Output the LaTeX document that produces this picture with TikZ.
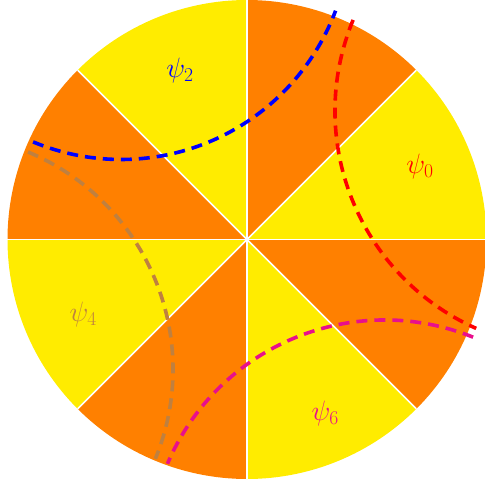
\RequirePackage{fix-cm}
\documentclass[tikz,border=0pt]{standalone}
\definecolor{yel}{RGB}{255,236,0}
\definecolor{org}{RGB}{255,128,0}
\definecolor{mag}{RGB}{232,16,140}
\definecolor{brn}{RGB}{191,128,64}
\begin{document}
\begin{tikzpicture}[x=1pt,y=1pt,
  sep/.style={draw=white, line width=1.6pt},
  geo/.style={draw=#1, line width=3.6pt, dash pattern=on 11pt off 7pt},
  lab/.style={text=#1, font=\fontsize{28}{30}\selectfont, inner sep=0pt}]
\useasboundingbox (-247,-245.5) rectangle (238,239.5);
\def\R{239.5}
\coordinate (O) at (0,0);
\foreach \a/\c in {0/yel,45/org,90/yel,135/org,180/yel,225/org,270/yel,315/org}
  \fill[\c] (O) -- (\a:\R) arc[start angle=\a, end angle=\a+45, radius=\R] -- cycle;
\foreach \a in {0,45,...,315} \draw[sep] (O) -- (\a:\R);
% arc centres
\coordinate (cr) at (326,128.5);
\coordinate (cb) at (-125.9,309);
\coordinate (cw) at (-309.5,-129.9);
\coordinate (cm) at (137.7,-316.5);
\draw[geo=red] (cr) ++(157.5:238) arc[start angle=157.5, end angle=246, radius=238];
\draw[geo=blue] (cb) ++(247.4:229) arc[start angle=247.4, end angle=339.5, radius=229];
\draw[geo=brn] (cw) ++(67.4:235.5) arc[start angle=67.4, end angle=-22.3, radius=235.5];
\draw[geo=mag] (cm) ++(68:236) arc[start angle=68, end angle=157, radius=236];
% labels
\node[lab=red] (p0) at (173,73.5) {$\psi_0$};
\node[lab=blue] (p2) at (-67,169) {$\psi_2$};
\node[lab=brn] (p4) at (-163.7,-75.2) {$\psi_4$};
\node[lab=mag] (p6) at (78.3,-173.5) {$\psi_6$};
\end{tikzpicture}
\end{document}
